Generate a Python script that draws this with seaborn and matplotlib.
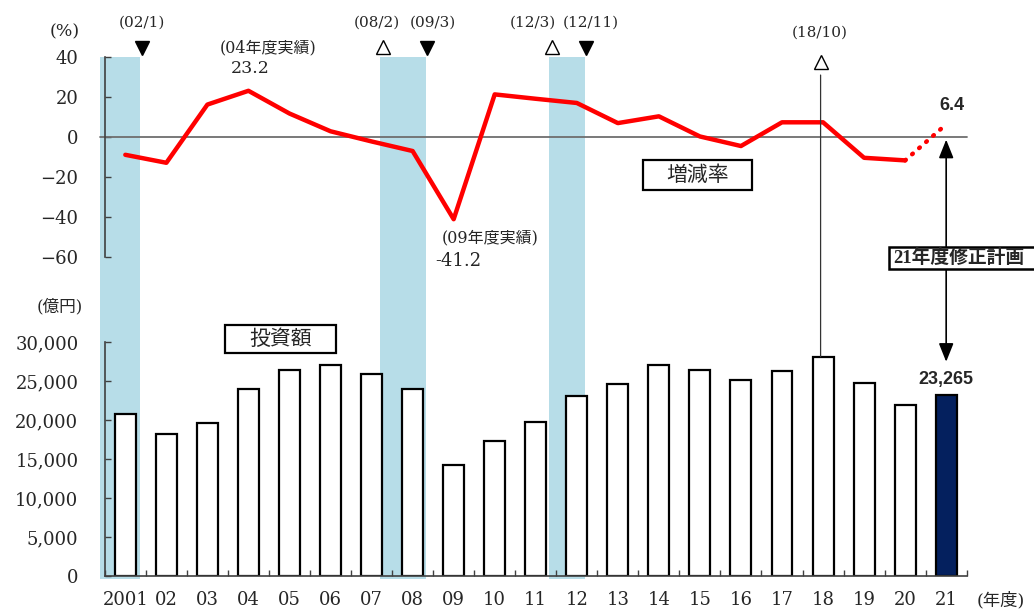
import matplotlib
matplotlib.use("Agg")
import numpy as np
import pandas as pd
import matplotlib.pyplot as plt
import seaborn as sns
from matplotlib.patches import Rectangle, ConnectionPatch
from matplotlib.transforms import blended_transform_factory
from matplotlib.ticker import FuncFormatter, MultipleLocator

# ---- data -------------------------------------------------------------
years = ["2001", "02", "03", "04", "05", "06", "07", "08", "09", "10", "11",
         "12", "13", "14", "15", "16", "17", "18", "19", "20", "21"]
investment = [20800, 18200, 19600, 24000, 26400, 27100, 25900, 24000, 14300,
              17300, 19800, 23100, 24600, 27100, 26400, 25150, 26300, 28150,
              24800, 21900, 23265]           # 億円
growth = [-8.9, -12.9, 16.3, 23.2, 11.8, 2.9, -2.2, -7.0, -41.2, 21.4, 19.2,
          17.1, 7.0, 10.4, 0.3, -4.5, 7.4, 7.4, -10.4, -11.7, 6.4]   # %

# recession periods (fiscal-year axis positions) and turning points
recessions = [(-0.62, 0.36), (6.20, 7.32), (10.32, 11.19)]
turn_labels = ["(02/1)", "(08/2)", "(09/3)", "(12/3)", "(12/11)", "(18/10)"]
turn_pos = [0.40, 6.29, 7.36, 10.39, 11.23, 16.94]
turn_kind = ["trough", "peak", "trough", "peak", "trough", "peak"]

# ---- style ------------------------------------------------------------
sns.set_theme(style="white")
plt.rcParams["font.family"] = ["DejaVu Serif", "Noto Sans CJK JP"]
plt.rcParams["axes.unicode_minus"] = True
CJK = ["Noto Sans CJK JP", "DejaVu Serif"]
SPINE = "#404040"
BAND = "#b7dde8"
NAVY = "#04205e"

W, H = 1034, 613
fig = plt.figure(figsize=(W / 100, H / 100), dpi=100)


def fx(px):
    return px / W


def fy(py):
    return 1 - py / H


left, right = 104.8, 966.7
ax_bar = fig.add_axes([fx(left), fy(576), fx(right - left), (576 - 342.3) / H])
ax_line = fig.add_axes([fx(left), fy(256.7), fx(right - left), (256.7 - 57.3) / H])
for ax in (ax_bar, ax_line):
    ax.set_facecolor("none")

# recession shading spanning both panels
band_tr = blended_transform_factory(ax_bar.transData, fig.transFigure)
for x0, x1 in recessions:
    ax_bar.add_patch(Rectangle((x0, fy(579)), x1 - x0, (579 - 57) / H,
                               transform=band_tr, facecolor=BAND,
                               edgecolor="none", zorder=0, clip_on=False))

# ---- investment bars --------------------------------------------------
df = pd.DataFrame({"year": years, "investment": investment})
sns.barplot(data=df, x="year", y="investment", ax=ax_bar, color="white",
            saturation=1, edgecolor="black", linewidth=1.6, width=0.51,
            zorder=2)
ax_bar.containers[0][-1].set_facecolor(NAVY)

ax_bar.set_xlim(-0.5, len(years) - 0.5)
ax_bar.set_ylim(0, 30000)
ax_bar.set_yticks(np.arange(0, 30001, 5000))
ax_bar.yaxis.set_major_formatter(FuncFormatter(lambda v, p: f"{int(v):,}"))
ax_bar.set_xlabel("")
ax_bar.set_ylabel("")
ax_bar.xaxis.set_minor_locator(MultipleLocator(1, offset=0.5))
ax_bar.tick_params(axis="x", which="major", length=0, pad=11, labelsize=13)
ax_bar.tick_params(axis="x", which="minor", direction="in", length=4.5,
                   width=1, color=SPINE, bottom=True)
ax_bar.tick_params(axis="y", direction="in", length=4.5, width=1, color=SPINE,
                   pad=19, labelsize=13, left=True)
for s in ("top", "right"):
    ax_bar.spines[s].set_visible(False)
for s in ("left", "bottom"):
    ax_bar.spines[s].set_color(SPINE)
    ax_bar.spines[s].set_linewidth(1.2)

ax_bar.annotate(f"{investment[-1]:,}", xy=(20, investment[-1]),
                xytext=(0, 5), textcoords="offset points", ha="center",
                va="bottom", fontsize=13, fontweight="bold",
                family="Liberation Sans")

# ---- growth-rate line -------------------------------------------------
xpos = np.arange(len(years))
sns.lineplot(x=xpos[:-1], y=growth[:-1], ax=ax_line, color="red",
             linewidth=3.2, zorder=3)
ax_line.plot(xpos[-2:], growth[-2:], color="red", linewidth=3.2,
             linestyle=(0, (0.2, 1.9)), dash_capstyle="round", zorder=3)
ax_line.axhline(0, color="#6e6e6e", linewidth=1.3, zorder=1, xmin=-0.006,
                clip_on=False)

ax_line.set_xlim(-0.5, len(years) - 0.5)
ax_line.set_ylim(-60, 40)
ax_line.set_yticks(np.arange(-60, 41, 20))
ax_line.set_xticks([])
ax_line.tick_params(axis="y", direction="in", length=4.5, width=1, color=SPINE,
                    pad=19, labelsize=13, left=True)
for s in ("top", "right", "bottom"):
    ax_line.spines[s].set_visible(False)
ax_line.spines["left"].set_color(SPINE)
ax_line.spines["left"].set_linewidth(1.2)

ax_line.text(20.15, 11.5, f"{growth[-1]}", ha="center", va="bottom",
             fontsize=13, fontweight="bold", family="Liberation Sans")
ax_line.text(3.47, 44.7, "(04年度実績)", ha="center", va="center", fontsize=11.5)
ax_line.text(3.04, 34.6, f"{growth[3]}", ha="center", va="center", fontsize=12.5)
ax_line.text(8.88, -50.5, "(09年度実績)", ha="center", va="center", fontsize=11.5)
ax_line.text(7.54, -62.1, f"-{abs(growth[8])}", ha="left", va="center",
             fontsize=13)

# turning-point markers and their dates
label_x = [0.41, 6.12, 7.49, 9.92, 11.33, 16.92]
label_y = [57.5, 57.5, 57.5, 57.5, 57.5, 52.2]
mark_y = [44.7, 45.2, 44.7, 45.2, 44.7, 37.8]
for lab, xp, kind, lx, ly, my in zip(turn_labels, turn_pos, turn_kind,
                                      label_x, label_y, mark_y):
    if kind == "trough":
        ax_line.plot([xp], [my], marker="v", ms=9.5, color="black",
                     linestyle="none", clip_on=False, zorder=4)
    else:
        ax_line.plot([xp], [my], marker="^", ms=10, mfc="white", mec="black",
                     mew=1.0, linestyle="none", clip_on=False, zorder=4)
    ax_line.text(lx, ly, lab, ha="center", va="center", fontsize=11)

# guide line from the 18/10 peak down to the FY18 bar
fig.add_artist(ConnectionPatch(xyA=(turn_pos[-1], 31.1), coordsA=ax_line.transData,
                               xyB=(turn_pos[-1], investment[17]),
                               coordsB=ax_bar.transData, color="#333333",
                               linewidth=0.9, zorder=1))

# double arrow linking the FY21 plan values
ax_line.annotate("", xy=(20, -1.3), xycoords="data", xytext=(20, 27500),
                 textcoords=ax_bar.transData, annotation_clip=False,
                 arrowprops=dict(arrowstyle="<|-|>,head_length=0.75,head_width=0.3",
                                 color="black", linewidth=1.2, shrinkA=0,
                                 shrinkB=0, mutation_scale=15))


# ---- boxed labels -----------------------------------------------------
def boxed(x0, y0, x1, y1, text, **kw):
    fig.add_artist(Rectangle((fx(x0), fy(y1)), fx(x1 - x0), (y1 - y0) / H,
                             transform=fig.transFigure, facecolor="white",
                             edgecolor="black", linewidth=1.6, zorder=5))
    fig.text(fx((x0 + x1) / 2), fy((y0 + y1) / 2), text, ha="center",
             va="center", zorder=6, **kw)


boxed(642.7, 160, 752, 190, "増減率", fontsize=15, family=CJK)
boxed(225, 325, 335.7, 352.7, "投資額", fontsize=15, family=CJK)

# plan box runs off the right edge of the figure
fig.add_artist(Rectangle((fx(889), fy(268.7)), fx(200), 22 / H,
                         transform=fig.transFigure, facecolor="white",
                         edgecolor="black", linewidth=1.8, zorder=5))
fig.text(fx(893), fy(258), "21年度修正計画", ha="left", va="center",
         fontsize=13.5, fontweight="bold",
         family=["Liberation Serif", "Noto Sans CJK JP"], zorder=6)

# unit labels
fig.text(fx(65), fy(32), "(%)", ha="center", va="center", fontsize=12.5)
fig.text(fx(60), fy(307), "(億円)", ha="center", va="center", fontsize=12,
         family=["DejaVu Serif", "Noto Sans CJK JP"])
fig.text(fx(1001), fy(601), "(年度)", ha="center", va="center", fontsize=12.5,
         family=["DejaVu Serif", "Noto Sans CJK JP"])

fig.savefig("out.png", dpi=100)
